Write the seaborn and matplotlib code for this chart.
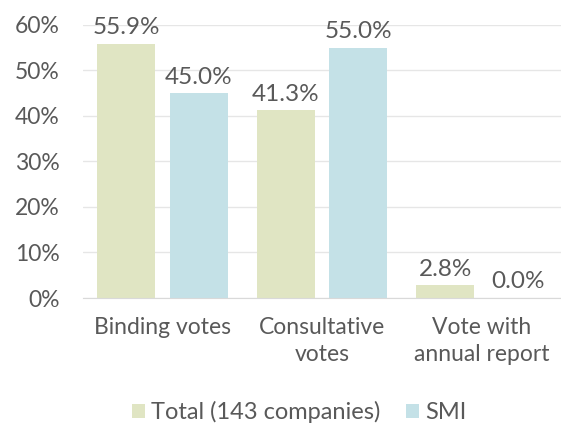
import pandas as pd
import matplotlib.pyplot as plt
import seaborn as sns

categories = ["Binding votes", "Consultative\nvotes", "Vote with\nannual report"]
series = ["Total (143 companies)", "SMI"]
total_values = [55.9, 41.3, 2.8]
smi_values = [45.0, 55.0, 0.0]
colors = ["#e0e5c3", "#c4e1e7"]

df = pd.DataFrame({
    "category": categories * 2,
    "series": [series[0]] * 3 + [series[1]] * 3,
    "value": total_values + smi_values,
})

sns.set_style("white")
plt.rcParams["font.family"] = ["Lato", "DejaVu Sans"]
text_color = "#595959"

fig, ax = plt.subplots(figsize=(5.61, 4.23), dpi=100)
sns.barplot(data=df, x="category", y="value", hue="series", palette=colors,
            saturation=1, width=0.91, gap=0.2, linewidth=0, ax=ax)

for cont in ax.containers:
    ax.bar_label(cont, labels=[f"{v:.1f}%" for v in cont.datavalues],
                 padding=4, fontsize=17.5, color=text_color)

ax.set_ylim(0, 60)
ax.set_xlim(-0.5, 2.5)
ax.set_yticks(range(0, 61, 10))
ax.set_yticklabels([f"{t}%" for t in range(0, 61, 10)])
ax.yaxis.grid(True, color="#e6e6e6", linewidth=1)
ax.set_axisbelow(True)
ax.tick_params(axis="both", labelsize=16.5, colors=text_color, length=0)
ax.tick_params(axis="y", pad=17)
ax.tick_params(axis="x", pad=14)
for lbl in ax.get_xticklabels():
    lbl.set_linespacing(1.35)
ax.set_xlabel("")
ax.set_ylabel("")
for s in ["top", "right", "left"]:
    ax.spines[s].set_visible(False)
ax.spines["bottom"].set_color("#d9d9d9")

ax.legend(loc="center", bbox_to_anchor=(0.452, -0.418), ncol=2, frameon=False,
          fontsize=17, labelcolor=text_color, handlelength=0.55, handleheight=0.55,
          handletextpad=0.25, columnspacing=1.1)

plt.subplots_adjust(left=0.148, right=1.0, top=0.941, bottom=0.2955)
plt.savefig("out.png", dpi=100)
